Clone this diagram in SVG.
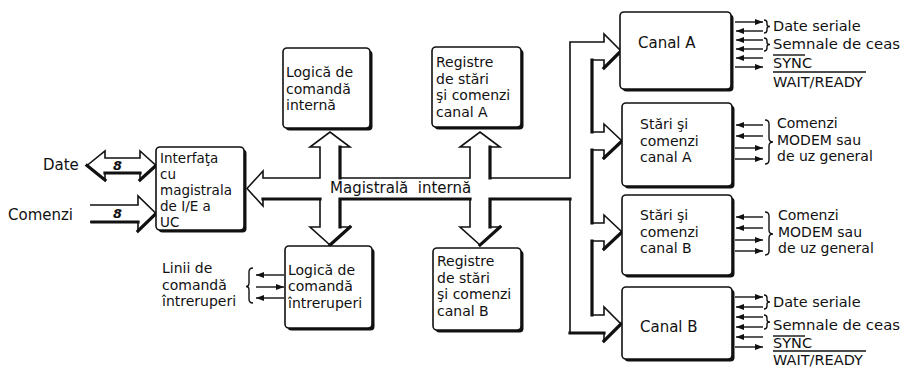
<svg xmlns="http://www.w3.org/2000/svg" width="912" height="368" viewBox="0 0 912 368">
<defs>
<style>
text{font-family:"DejaVu Sans","Liberation Sans",sans-serif;font-size:14px;fill:#111}
.sm{font-size:14.5px}
.lg{font-size:15px}
.t135{font-size:13.5px}
.b8{font-size:13px;font-weight:bold;font-style:italic}
.box{fill:#fff;stroke:#111;stroke-width:1.6}
.sh{fill:#111}
.ol{fill:#fff;stroke:#111;stroke-width:1.6;stroke-linejoin:miter}
.thick{fill:none;stroke:#111;stroke-width:3.2;stroke-linecap:square}
.ln{fill:none;stroke:#111;stroke-width:1.4}
.br{fill:none;stroke:#111;stroke-width:1.4}
</style>
<marker id="ah" viewBox="0 0 8 6" refX="8" refY="3" markerWidth="8" markerHeight="6" markerUnits="userSpaceOnUse" orient="auto">
<path d="M0,0 L8,3 L0,6 z" fill="#111"/>
</marker>
</defs>

<g id="connectors">
<!-- internal bus outline -->
<path class="ol" d="M263,199 H320 V227 H310 L330,245 L350,227 H340 V199 H470 V227 H460 L480,245 L500,227 H490 V199 H570 V333 H604 V341 L621,324 L604,307 V315 H592 V241 H604 V249 L622,232 L604,215 V223 H592 V150 H604 V158 L622,141 L604,124 V132 H592 V60 H604 V68 L621,51 L604,34 V42 H570 V178 H490 V147 H500 L480,132 L460,147 H470 V178 H340 V147 H350 L330,132 L310,147 H320 V178 H263 V171 L247,188.5 L263,206 Z"/>
<path class="thick" d="M263,199 H320 M340,199 H470 M490,199 H570 M340,147 V178 M490,147 V178 M340,199 V227 M490,199 V227 M592,60 V132 M592,150 V223 M592,241 V315 M570,333 H604 M604,68 L621,51 M604,158 L622,141 M604,249 L622,232 M604,341 L621,324 M350,227 L330,245 M500,227 L480,245"/>
<!-- Date double arrow -->
<path class="ol" d="M87,165.5 L105,151 V158 H140 V151 L156,165.5 L140,180 V173 H105 V180 Z"/>
<path class="thick" d="M105,173 H140 M140,180 L156,165.5 M87,165.5 L105,180"/>
<text class="b8" x="113" y="170">8</text>
<!-- Comenzi arrow -->
<path class="ol" d="M90,205 H138 V196 L156,213.5 L138,231 V222 H90"/>
<path class="thick" d="M92,222 H138 M138,231 L156,213.5"/>
<text class="b8" x="113" y="218">8</text>
<!-- interrupt lines -->
<line class="ln" x1="284" y1="275" x2="256" y2="275" marker-end="url(#ah)"/>
<line class="ln" x1="256" y1="287" x2="284" y2="287" marker-end="url(#ah)"/>
<line class="ln" x1="284" y1="298" x2="256" y2="298" marker-end="url(#ah)"/>
<!-- Canal A lines -->
<line class="ln" x1="735" y1="22" x2="763" y2="22" marker-end="url(#ah)"/>
<line class="ln" x1="763" y1="31" x2="736" y2="31" marker-end="url(#ah)"/>
<line class="ln" x1="763" y1="40" x2="736" y2="40" marker-end="url(#ah)"/>
<line class="ln" x1="763" y1="49" x2="736" y2="49" marker-end="url(#ah)"/>
<line class="ln" x1="763" y1="58" x2="736" y2="58" marker-end="url(#ah)"/>
<line class="ln" x1="735" y1="67" x2="763" y2="67" marker-end="url(#ah)"/>
<!-- Stari A lines -->
<line class="ln" x1="763" y1="125" x2="736" y2="125" marker-end="url(#ah)"/>
<line class="ln" x1="763" y1="136" x2="736" y2="136" marker-end="url(#ah)"/>
<line class="ln" x1="735" y1="148" x2="763" y2="148" marker-end="url(#ah)"/>
<line class="ln" x1="735" y1="159" x2="763" y2="159" marker-end="url(#ah)"/>
<!-- Stari B lines -->
<line class="ln" x1="763" y1="217" x2="736" y2="217" marker-end="url(#ah)"/>
<line class="ln" x1="763" y1="228" x2="736" y2="228" marker-end="url(#ah)"/>
<line class="ln" x1="735" y1="240" x2="763" y2="240" marker-end="url(#ah)"/>
<line class="ln" x1="735" y1="251" x2="763" y2="251" marker-end="url(#ah)"/>
<!-- Canal B lines -->
<line class="ln" x1="735" y1="297" x2="763" y2="297" marker-end="url(#ah)"/>
<line class="ln" x1="763" y1="307" x2="736" y2="307" marker-end="url(#ah)"/>
<line class="ln" x1="763" y1="317" x2="736" y2="317" marker-end="url(#ah)"/>
<line class="ln" x1="763" y1="327" x2="736" y2="327" marker-end="url(#ah)"/>
<line class="ln" x1="763" y1="337" x2="736" y2="337" marker-end="url(#ah)"/>
<line class="ln" x1="735" y1="347" x2="763" y2="347" marker-end="url(#ah)"/>
<text class="lg" x="330" y="193" xml:space="preserve">Magistrală  internă</text>
</g>

<g id="n_interfata">
<rect class="sh" x="158.5" y="149.5" width="88" height="83" rx="4"/>
<rect class="box" x="156" y="147" width="88" height="83" rx="4"/>
<text class="t135" x="160" y="163">Interfaţa</text>
<text class="t135" x="160" y="179">cu</text>
<text class="t135" x="160" y="195">magistrala</text>
<text class="t135" x="160" y="211">de I/E a</text>
<text class="t135" x="160" y="227">UC</text>
</g>

<g id="n_logica_interna">
<rect class="sh" x="285.5" y="50.5" width="87" height="80" rx="4"/>
<rect class="box" x="283" y="48" width="87" height="80" rx="4"/>
<text x="286" y="77">Logică de</text>
<text x="286" y="93.5">comandă</text>
<text x="286" y="110">internă</text>
</g>

<g id="n_registre_a">
<rect class="sh" x="434.5" y="49.5" width="89" height="80" rx="4"/>
<rect class="box" x="432" y="47" width="89" height="80" rx="4"/>
<text x="436" y="67">Registre</text>
<text x="436" y="83.5">de stări</text>
<text x="436" y="100">şi comenzi</text>
<text x="436" y="116.5">canal A</text>
</g>

<g id="n_logica_intreruperi">
<rect class="sh" x="287.5" y="248.5" width="87" height="82" rx="4"/>
<rect class="box" x="285" y="246" width="87" height="82" rx="4"/>
<text x="288" y="274.5">Logică de</text>
<text x="288" y="291">comandă</text>
<text x="288" y="307.5">întreruperi</text>
</g>

<g id="n_registre_b">
<rect class="sh" x="435.5" y="250.5" width="88" height="82" rx="4"/>
<rect class="box" x="433" y="248" width="88" height="82" rx="4"/>
<text x="437" y="266">Registre</text>
<text x="437" y="282.5">de stări</text>
<text x="437" y="299">şi comenzi</text>
<text x="437" y="315.5">canal B</text>
</g>

<g id="n_canal_a">
<rect class="sh" x="622.5" y="14.5" width="111" height="77" rx="4"/>
<rect class="box" x="620" y="12" width="111" height="77" rx="4"/>
<text class="lg" x="638" y="48">Canal A</text>
</g>

<g id="n_stari_a">
<rect class="sh" x="624.5" y="105.5" width="110" height="83" rx="4"/>
<rect class="box" x="622" y="103" width="110" height="83" rx="4"/>
<text x="640" y="129">Stări şi</text>
<text x="640" y="145.5">comenzi</text>
<text x="640" y="162">canal A</text>
</g>

<g id="n_stari_b">
<rect class="sh" x="624.5" y="197.5" width="110" height="80" rx="4"/>
<rect class="box" x="622" y="195" width="110" height="80" rx="4"/>
<text x="640" y="220">Stări şi</text>
<text x="640" y="236.5">comenzi</text>
<text x="640" y="253">canal B</text>
</g>

<g id="n_canal_b">
<rect class="sh" x="624.5" y="289.5" width="110" height="72" rx="4"/>
<rect class="box" x="622" y="287" width="110" height="72" rx="4"/>
<text class="lg" x="640" y="332">Canal B</text>
</g>

<g id="labels">
<text class="lg" x="43" y="170">Date</text>
<text class="lg" x="8" y="220">Comenzi</text>
<text x="162" y="273">Linii de</text>
<text x="162" y="289.5">comandă</text>
<text x="162" y="306">întreruperi</text>
<path class="br" d="M253,268 Q249,268 249,272 V283 Q249,286.5 246,286.5 Q249,286.5 249,290 V299 Q249,303 253,303"/>

<path class="br" d="M764,20 Q767,20 767,23 V24.5 Q767,26.5 770,26.5 Q767,26.5 767,28.5 V30 Q767,33 764,33"/>
<text class="sm" x="773" y="31">Date seriale</text>
<path class="br" d="M764,38 Q767,38 767,41 V42.5 Q767,44.5 770,44.5 Q767,44.5 767,46.5 V48 Q767,51 764,51"/>
<text class="sm" x="773" y="49" textLength="127" lengthAdjust="spacingAndGlyphs">Semnale de ceas</text>
<line class="ln" x1="773" y1="55" x2="805" y2="55"/>
<text class="sm" x="773" y="68">SYNC</text>
<line class="ln" x1="773" y1="72" x2="866" y2="72"/>
<text class="sm" x="773" y="87">WAIT/READY</text>

<path class="br" d="M765,120 Q769,120 769,124 V138 Q769,142 773,142 Q769,142 769,146 V160 Q769,164 765,164"/>
<text x="777" y="128">Comenzi</text>
<text x="777" y="144.5">MODEM sau</text>
<text x="777" y="161">de uz general</text>

<path class="br" d="M765,212 Q769,212 769,216 V230 Q769,234 773,234 Q769,234 769,238 V251 Q769,255 765,255"/>
<text x="778" y="220">Comenzi</text>
<text x="778" y="236.5">MODEM sau</text>
<text x="778" y="253">de uz general</text>

<path class="br" d="M764,295 Q767,295 767,298 V300 Q767,302 770,302 Q767,302 767,304 V306 Q767,309 764,309"/>
<text class="sm" x="773" y="307">Date seriale</text>
<path class="br" d="M764,315 Q767,315 767,318 V320 Q767,322 770,322 Q767,322 767,324 V326 Q767,329 764,329"/>
<text class="sm" x="773" y="330" textLength="127" lengthAdjust="spacingAndGlyphs">Semnale de ceas</text>
<line class="ln" x1="773" y1="336" x2="805" y2="336"/>
<text class="sm" x="773" y="348">SYNC</text>
<line class="ln" x1="773" y1="351" x2="866" y2="351"/>
<text class="sm" x="773" y="365">WAIT/READY</text>
</g>
</svg>
